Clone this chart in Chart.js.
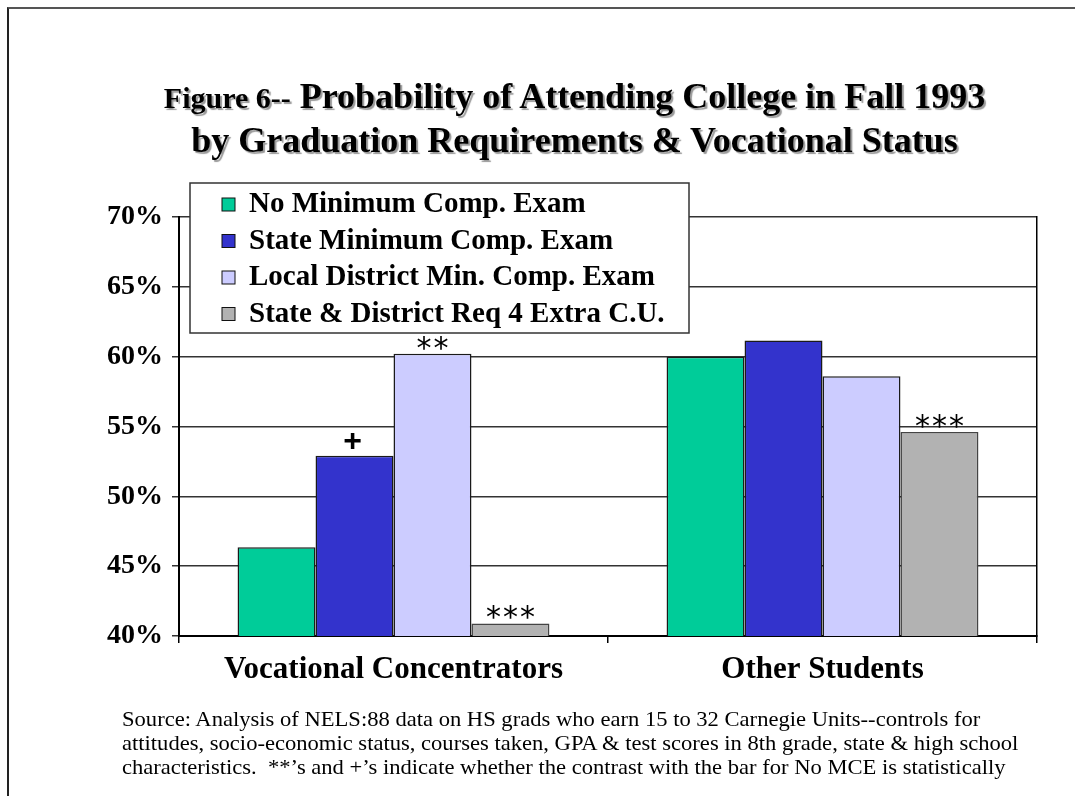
<!DOCTYPE html>
<html>
<head>
<meta charset="utf-8">
<script src="https://cdn.jsdelivr.net/npm/chart.js@4.4.1/dist/chart.umd.min.js"></script>
<style>
  body { margin: 0; background: #fff; }
  #wrap { position: relative; width: 1075px; height: 796px; overflow: hidden; }
  #frame { position: absolute; left: 7px; top: 7px; right: -10px; bottom: -10px;
           border-left: 2px solid #222; border-top: 2px solid #555; }
  #chart { position: absolute; left: 0; top: 0; }
  #title { position: absolute; left: 72px; top: 75px; width: 1005px; text-align: center;
           font-family: "Liberation Serif", "Times New Roman", serif; font-weight: bold;
           font-size: 36px; line-height: 43px; color: #000; text-shadow: 2px 2px 1px #999; }
  #title .small { font-size: 30px; }
  #source { position: absolute; left: 122px; top: 707px; white-space: nowrap;
            font-family: "Liberation Serif", "Times New Roman", serif; font-size: 21.5px;
            line-height: 24px; color: #000; transform: scaleX(1.05); transform-origin: left top; }
</style>
</head>
<body>
<div id="wrap">
  <div id="frame"></div>
  <canvas id="chart" width="1075" height="796"></canvas>
  <div id="title"><span class="small">Figure 6--</span> Probability of Attending College in Fall 1993<br>by Graduation Requirements &amp; Vocational Status</div>
  <div id="source">Source: Analysis of NELS:88 data on HS grads who earn 15 to 32 Carnegie Units--controls for<br>attitudes, socio-economic status, courses taken, GPA &amp; test scores in 8th grade, state &amp; high school<br>characteristics.&nbsp; **’s and +’s indicate whether the contrast with the bar for No MCE is statistically</div>
</div>
<script>
// categories and series (probability of attending college, %)
const categories = ['Vocational Concentrators', 'Other Students'];
const seriesNames = ['No Minimum Comp. Exam', 'State Minimum Comp. Exam',
                     'Local District Min. Comp. Exam', 'State & District Req 4 Extra C.U.'];
const noMinExam    = [46.35, 60.0];
const stateMinExam = [52.9, 61.15];
const localMinExam = [60.2, 58.6];
const extraCU      = [40.9, 54.6];
// significance marks above each bar
const noMinMarks    = ['', ''];
const stateMinMarks = ['+', ''];
const localMinMarks = ['**', ''];
const extraCUMarks  = ['***', '***'];
const yMin = 40, yMax = 70, yStep = 5;

const colors = ['#00CC99', '#3333CC', '#CCCCFF', '#B2B2B2'];
const serif = '"Liberation Serif", "Times New Roman", serif';

const marksPlugin = {
  id: 'marks',
  afterDatasetsDraw(chart) {
    const ctx = chart.ctx;
    chart.data.datasets.forEach((ds, i) => {
      const meta = chart.getDatasetMeta(i);
      meta.data.forEach((bar, j) => {
        const m = ds.marks[j];
        if (!m) return;
        ctx.save();
        ctx.fillStyle = '#000';
        ctx.textAlign = 'center';
        ctx.textBaseline = 'middle';
        if (m === '+') {
          ctx.font = 'bold 32px "Liberation Sans", Arial, sans-serif';
          ctx.fillText(m, bar.x - 2, bar.y - 14);
        } else {
          ctx.font = '30px "DejaVu Sans", sans-serif';
          ctx.letterSpacing = '2px';
          ctx.textBaseline = 'alphabetic';
          ctx.fillText(m, bar.x + 1, bar.y - 14 + 18);
        }
        ctx.restore();
      });
    });
  }
};

const boxLegend = {
  id: 'boxLegend',
  afterDraw(chart) {
    const ctx = chart.ctx;
    const a = chart.chartArea;
    const x0 = a.left + 11, y0 = a.top - 34, w = 499, h = 150;
    ctx.save();
    ctx.fillStyle = '#fff';
    ctx.fillRect(x0, y0, w, h);
    ctx.strokeStyle = '#333';
    ctx.lineWidth = 1.5;
    ctx.strokeRect(x0, y0, w, h);
    ctx.font = 'bold 29px ' + serif;
    ctx.textBaseline = 'middle';
    chart.data.datasets.forEach((ds, i) => {
      const cy = y0 + 21 + i * 36.5;
      ctx.fillStyle = ds.backgroundColor;
      ctx.fillRect(x0 + 32, cy - 6, 13, 13);
      ctx.strokeStyle = '#111';
      ctx.lineWidth = 1;
      ctx.strokeRect(x0 + 32, cy - 6, 13, 13);
      ctx.fillStyle = '#000';
      ctx.fillText(ds.label, x0 + 59, cy + 1);
    });
    ctx.restore();
  }
};

const seriesData = [noMinExam, stateMinExam, localMinExam, extraCU];
const seriesMarks = [noMinMarks, stateMinMarks, localMinMarks, extraCUMarks];

new Chart(document.getElementById('chart'), {
  type: 'bar',
  data: {
    labels: categories,
    datasets: seriesNames.map((name, i) => ({
      label: name,
      data: seriesData[i],
      marks: seriesMarks[i],
      backgroundColor: colors[i],
      borderColor: i === 3 ? '#444' : '#1a1a1a',
      borderWidth: 1.5,
      barPercentage: 1.0,
      categoryPercentage: 0.727
    }))
  },
  options: {
    responsive: false,
    animation: false,
    layout: { padding: { left: 0, top: 217, right: 38, bottom: 0 } },
    plugins: { legend: { display: false }, title: { display: false }, tooltip: { enabled: false } },
    scales: {
      x: {
        ticks: { color: '#000', font: { family: serif, size: 31, weight: 'bold' }, padding: 8 },
        grid: { drawOnChartArea: false, offset: true, tickLength: 7, color: '#000', lineWidth: 1.5 },
        border: { color: '#000', width: 2 },
        afterFit(s) { s.height = 160; }
      },
      y: {
        min: yMin, max: yMax,
        ticks: { stepSize: yStep, callback: v => v + '%', color: '#000',
                 font: { family: serif, size: 28, weight: 'bold' }, padding: 9 },
        grid: { color: '#333', lineWidth: 1.5, tickLength: 7 },
        border: { color: '#000', width: 2 },
        afterFit(s) { s.width = 179; }
      },
      y2: {
        position: 'right', min: yMin, max: yMax,
        ticks: { display: false },
        grid: { display: false },
        border: { color: '#000', width: 1.5 },
        afterFit(s) { s.width = 0; }
      }
    }
  },
  plugins: [marksPlugin, boxLegend]
});
</script>
</body>
</html>
